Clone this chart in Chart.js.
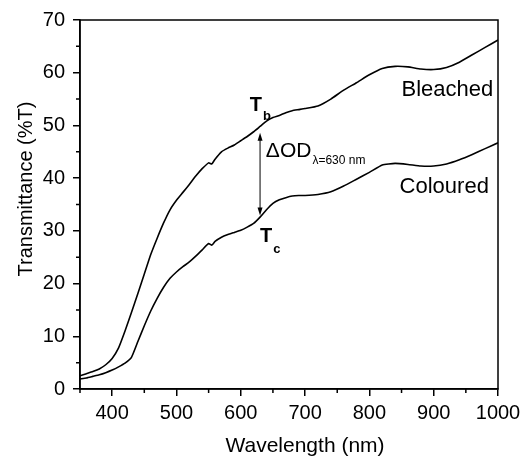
<!DOCTYPE html>
<html>
<head>
<meta charset="utf-8">
<script src="https://cdn.jsdelivr.net/npm/chart.js@4.4.1/dist/chart.umd.min.js"></script>
<style>
  html, body { margin: 0; padding: 0; background: #fff; }
  canvas { display: block; }
</style>
</head>
<body>
<canvas id="specChart" width="528" height="460"></canvas>
<script>
// --- spectra ---
const wavelengths = [350, 360, 370, 380, 390, 400, 410, 420, 430, 440, 450, 460, 470, 480, 490, 500,
  510, 520, 530, 540, 550, 555, 560, 570, 580, 590, 600, 610, 620, 630, 640, 650, 660, 670, 680,
  690, 700, 720, 740, 760, 780, 800, 820, 840, 860, 880, 900, 920, 940, 960, 980, 1000];

const bleached = [2.5, 2.9, 3.3, 3.8, 4.6, 5.8, 7.8, 11.0, 14.5, 18.1, 21.8, 25.5, 28.6, 31.5, 34.0, 35.8,
  37.3, 38.8, 40.4, 41.8, 42.9, 42.7, 43.6, 45.0, 45.7, 46.3, 47.1, 47.9, 48.8, 49.8, 50.8, 51.5, 51.9, 52.4, 52.8,
  53.0, 53.2, 53.7, 55.0, 56.7, 58.1, 59.6, 60.8, 61.2, 61.1, 60.7, 60.6, 61.0, 62.0, 63.4, 64.8, 66.2];

const coloured = [1.9, 2.1, 2.4, 2.7, 3.1, 3.6, 4.2, 4.9, 6.0, 9.0, 12.0, 14.8, 17.2, 19.3, 21.0, 22.2,
  23.2, 24.1, 25.2, 26.4, 27.6, 27.3, 28.0, 28.8, 29.3, 29.7, 30.1, 30.7, 31.4, 32.6, 34.0, 35.2, 35.9, 36.3, 36.6,
  36.7, 36.7, 36.9, 37.4, 38.5, 39.8, 41.1, 42.5, 42.8, 42.6, 42.3, 42.3, 42.7, 43.5, 44.5, 45.6, 46.7];

const xMinorTicks = [350, 450, 550, 650, 750, 850, 950];
const yMinorTicks = [5, 15, 25, 35, 45, 55, 65];

// delta OD arrow at 630 nm
const arrowWl = 630;
const arrowTop = 48.6;
const arrowBottom = 32.9;

const FONT = '"Liberation Sans", Arial, Helvetica, sans-serif';

const toPoints = (ys) => wavelengths.map((w, i) => ({ x: w, y: ys[i] }));

// box, minor ticks, arrow, axis titles and text labels
const decorPlugin = {
  id: 'decor',
  afterDraw(chart) {
    const { ctx, chartArea: area, scales: { x, y } } = chart;
    ctx.save();
    ctx.strokeStyle = '#000';
    ctx.lineWidth = 1.5;
    ctx.strokeRect(area.left, area.top, area.right - area.left, area.bottom - area.top);

    ctx.beginPath();
    xMinorTicks.forEach(v => {
      const px = x.getPixelForValue(v);
      ctx.moveTo(px, area.bottom);
      ctx.lineTo(px, area.bottom + 4);
    });
    yMinorTicks.forEach(v => {
      const py = y.getPixelForValue(v);
      ctx.moveTo(area.left - 4, py);
      ctx.lineTo(area.left, py);
    });
    ctx.stroke();

    // double-headed arrow
    const ax = x.getPixelForValue(arrowWl);
    const ay1 = y.getPixelForValue(arrowTop);
    const ay2 = y.getPixelForValue(arrowBottom);
    ctx.lineWidth = 1;
    ctx.beginPath();
    ctx.moveTo(ax, ay1 + 4);
    ctx.lineTo(ax, ay2 - 4);
    ctx.stroke();
    ctx.fillStyle = '#000';
    ctx.beginPath();
    ctx.moveTo(ax, ay1);
    ctx.lineTo(ax - 2.5, ay1 + 8);
    ctx.lineTo(ax + 2.5, ay1 + 8);
    ctx.closePath();
    ctx.fill();
    ctx.beginPath();
    ctx.moveTo(ax, ay2);
    ctx.lineTo(ax - 2.5, ay2 - 8);
    ctx.lineTo(ax + 2.5, ay2 - 8);
    ctx.closePath();
    ctx.fill();

    ctx.textBaseline = 'alphabetic';
    ctx.textAlign = 'left';

    // T_b
    let tx = x.getPixelForValue(614), ty = y.getPixelForValue(52.7);
    ctx.font = 'bold 20px ' + FONT;
    ctx.fillText('T', tx, ty);
    let w = ctx.measureText('T').width;
    ctx.font = 'bold 13px ' + FONT;
    ctx.fillText('b', tx + w + 1, ty + 9);

    // T_c
    tx = x.getPixelForValue(630); ty = y.getPixelForValue(27.8);
    ctx.font = 'bold 20px ' + FONT;
    ctx.fillText('T', tx, ty);
    w = ctx.measureText('T').width;
    ctx.font = 'bold 13px ' + FONT;
    ctx.fillText('c', tx + w + 1, ty + 11);

    // delta OD
    tx = x.getPixelForValue(639); ty = y.getPixelForValue(44);
    ctx.font = '21px ' + FONT;
    ctx.fillText('\u0394OD', tx, ty);
    w = ctx.measureText('\u0394OD').width;
    ctx.font = '12px ' + FONT;
    ctx.fillText('\u03bb=630 nm', tx + w + 1, ty + 7);

    // curve names
    ctx.font = '22px ' + FONT;
    ctx.fillText('Bleached', x.getPixelForValue(850), y.getPixelForValue(55.6));
    ctx.fillText('Coloured', x.getPixelForValue(847), y.getPixelForValue(37.1));

    // axis titles (sit a little off-centre in the original)
    ctx.textAlign = 'center';
    ctx.font = '21px ' + FONT;
    ctx.fillText('Wavelength (nm)', 305, 452);
    ctx.translate(32, 189);
    ctx.rotate(-Math.PI / 2);
    ctx.font = '20px ' + FONT;
    ctx.fillText('Transmittance (%T)', 0, 0);
    ctx.restore();
  }
};

const lineStyle = {
  borderColor: '#000',
  borderWidth: 1.6,
  pointRadius: 0,
  tension: 0.15,
  fill: false
};

new Chart(document.getElementById('specChart'), {
  type: 'line',
  data: {
    datasets: [
      Object.assign({ label: 'Bleached', data: toPoints(bleached) }, lineStyle),
      Object.assign({ label: 'Coloured', data: toPoints(coloured) }, lineStyle)
    ]
  },
  options: {
    responsive: false,
    animation: false,
    layout: { padding: { top: 19, right: 30, left: 0, bottom: 0 } },
    plugins: { legend: { display: false }, tooltip: { enabled: false } },
    scales: {
      x: {
        type: 'linear',
        min: 350,
        max: 1000,
        afterFit: (s) => { s.height = 71; },
        ticks: { stepSize: 100, includeBounds: false, color: '#000', padding: 5, maxRotation: 0,
          callback: (v) => String(v), font: { family: FONT, size: 20 } },
        grid: { drawOnChartArea: false, drawTicks: true, tickLength: 7, color: '#000', lineWidth: 1.5 },
        border: { display: true, color: '#000', width: 1.5 },
        title: { display: false }
      },
      y: {
        type: 'linear',
        min: 0,
        max: 70,
        afterFit: (s) => { s.width = 80; },
        ticks: { stepSize: 10, color: '#000', padding: 8, callback: (v) => String(v),
          font: { family: FONT, size: 20 } },
        grid: { drawOnChartArea: false, drawTicks: true, tickLength: 7, color: '#000', lineWidth: 1.5 },
        border: { display: true, color: '#000', width: 1.5 },
        title: { display: false }
      }
    }
  },
  plugins: [decorPlugin]
});
</script>
</body>
</html>
